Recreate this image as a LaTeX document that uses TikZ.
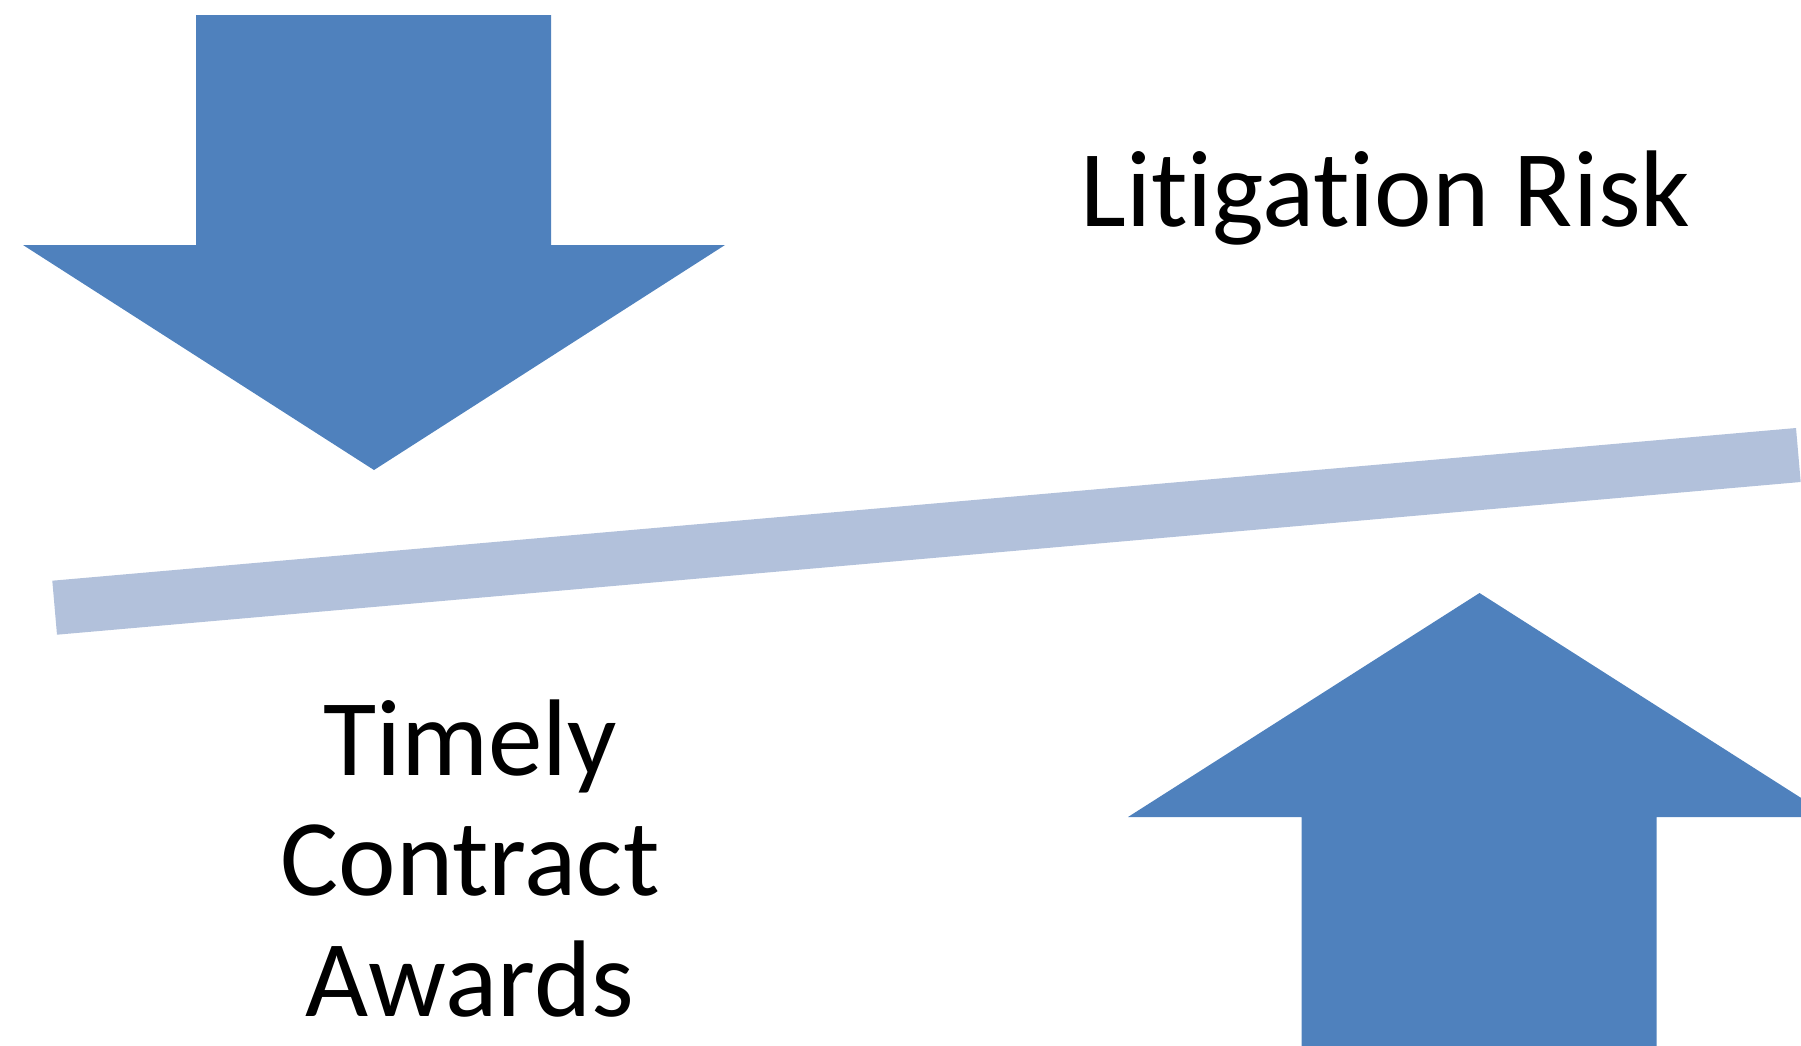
\documentclass[tikz,border=0pt]{standalone}
\usepackage{fontspec}
\setmainfont{Carlito}[RawFeature={-liga;-clig}]
\definecolor{arrowblue}{HTML}{4F81BD}
\definecolor{beamblue}{HTML}{B2C1DB}
\begin{document}
\begin{tikzpicture}[x=1pt,y=-1pt,
  arrowshape/.style={fill=arrowblue},
  beamshape/.style={fill=beamblue},
  lbl/.style={font=\fontsize{109}{120.6}\selectfont, inner sep=0pt, outer sep=0pt}]
\useasboundingbox (0,0) rectangle (1801,1045);
\clip (0,0) rectangle (1801,1045);
% downward arrow
\fill[arrowshape] (196,15) -- (551,15) -- (551,245) -- (725,245) -- (374,470) -- (23,245) -- (196,245) -- cycle;
% upward arrow
\fill[arrowshape] (1301.5,1060) -- (1301.5,817) -- (1128,817) -- (1479.5,593) -- (1831,817) -- (1656.5,817) -- (1656.5,1060) -- cycle;
% tilted beam
\fill[beamshape] (52.3,580.7) -- (1796,428) -- (1800.7,482) -- (57,634.7) -- cycle;
\node[lbl, anchor=base] (risk) at (1385.5,226.5) {Litigation Risk};
\node[lbl, anchor=base, align=center] (awards) at (470,1016.5) {Timely\\Contract\\Awards};
\end{tikzpicture}
\end{document}
